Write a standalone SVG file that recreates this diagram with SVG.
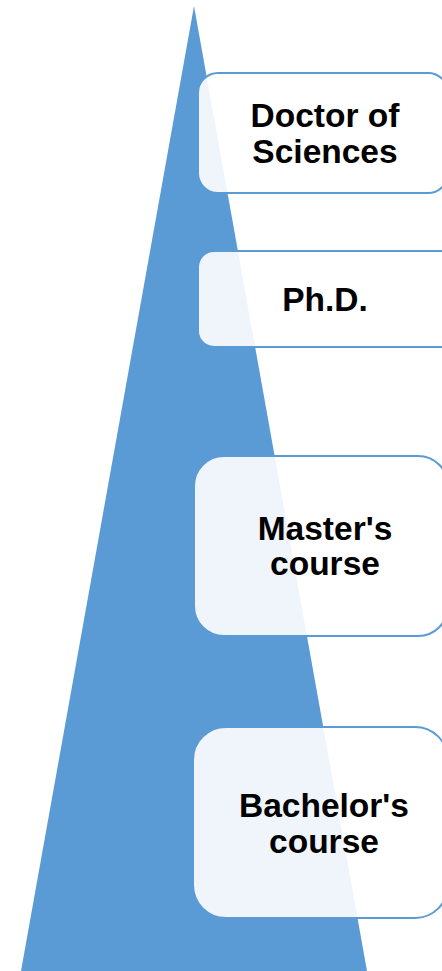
<svg xmlns="http://www.w3.org/2000/svg" width="442" height="971" viewBox="0 0 442 971">
<style>
.box{fill:#ffffff;fill-opacity:0.9;stroke:#5B9BD5;stroke-width:2}
.lbl{font-family:"Liberation Sans",Arial,sans-serif;font-weight:bold;font-size:33.5px;fill:#000000;text-anchor:middle}
</style>
<rect width="442" height="971" fill="#ffffff"/>
<g id="pyramid">
<polygon points="194,6 21,971 367,971" fill="#5B9BD5"/>
</g>
<g id="connectors"></g>
<g id="doctor">
<rect class="box" x="198" y="73" width="250" height="120" rx="20"/>
<text class="lbl" x="325" y="127">Doctor of</text>
<text class="lbl" x="325" y="163">Sciences</text>
</g>
<g id="phd">
<rect class="box" x="198" y="251" width="262" height="96" rx="16"/>
<text class="lbl" x="325" y="311">Ph.D.</text>
</g>
<g id="master">
<rect class="box" x="194" y="456" width="254" height="180" rx="30"/>
<text class="lbl" x="325" y="540">Master's</text>
<text class="lbl" x="325" y="575">course</text>
</g>
<g id="bachelor">
<rect class="box" x="193" y="727" width="255" height="191" rx="33"/>
<text class="lbl" x="324" y="817">Bachelor's</text>
<text class="lbl" x="324" y="853">course</text>
</g>
</svg>
